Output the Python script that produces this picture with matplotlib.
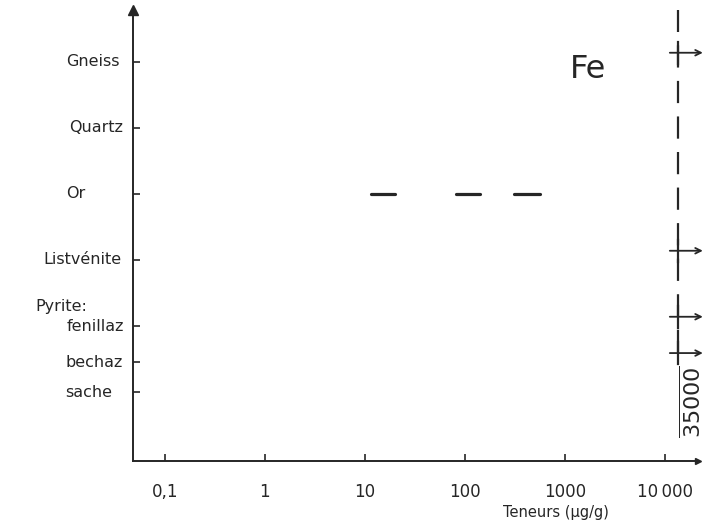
import numpy as np
import matplotlib
matplotlib.use("Agg")
import matplotlib.pyplot as plt

# categories on the vertical axis (top to bottom)
categories = ['Gneiss', 'Quartz', 'Or', 'Listvénite', 'fenillaz', 'bechaz', 'sache']
cat_pos = [6.0, 5.0, 4.0, 3.0, 2.0, 1.45, 1.0]

# Fe ranges measured in "Or" (µg/g)
or_low = [11.5, 81, 310]
or_high = [20, 141, 560]

# samples whose Fe content is above the plotted range
above_cats = ['Gneiss', 'Listvénite', 'fenillaz', 'bechaz']
limit_value = 13500
bechaz_value = '35000'

xticks = [0.1, 1, 10, 100, 1000, 10000]
xticklabels = ['0,1', '1', '10', '100', '1000', '10\u2009000']

ink = '#262626'

fig = plt.figure(figsize=(7.22, 5.32), dpi=100)
ax = fig.add_axes([0.184, 0.1335, 0.7825, 0.848])
ax.set_xscale('log')
ax.set_xlim(10**-1.32, 10**4.33)
ax.set_ylim(-0.045, 6.79)

for s in ['top', 'right']:
    ax.spines[s].set_visible(False)
for s in ['left', 'bottom']:
    ax.spines[s].set_linewidth(1.4)
    ax.spines[s].set_color(ink)

# axis arrows
ax.plot([0], [1], marker='^', ms=7, color=ink, transform=ax.transAxes, clip_on=False)
ax.plot([1], [0], marker='>', ms=5, color=ink, transform=ax.transAxes, clip_on=False)

ax.set_xticks(xticks)
ax.set_xticklabels(xticklabels, fontsize=12, color=ink)
ax.minorticks_off()
ax.tick_params(axis='x', direction='in', length=5, width=1.2, color=ink, pad=16)
ax.set_yticks(cat_pos)
ax.set_yticklabels([''] * len(cat_pos))
ax.tick_params(axis='y', direction='in', length=5, width=1.2, color=ink)

# category labels (right edge in pixels from the figure's left)
label_right = {'Gneiss': 120, 'Quartz': 123, 'Or': 86, 'Listvénite': 122,
               'fenillaz': 124, 'bechaz': 123, 'sache': 112}
for c, y in zip(categories, cat_pos):
    xf = (label_right[c] - 133) / 565
    ax.text(xf, y, c, transform=ax.get_yaxis_transform(), ha='right', va='center',
            fontsize=11.5, color=ink)
ax.text((36 - 133) / 565, 2.3, 'Pyrite:', transform=ax.get_yaxis_transform(),
        ha='left', va='center', fontsize=11.5, color=ink)

# Or ranges
for lo, hi in zip(or_low, or_high):
    ax.plot([lo, hi], [4.0, 4.0], color=ink, lw=2.3, solid_capstyle='round')

# vertical dashed limit line
ax.plot([limit_value, limit_value], [1.6, 6.79], color=ink, lw=1.6,
        dashes=(10, 6), clip_on=False)

# "greater than" markers
for c in above_cats:
    y = cat_pos[categories.index(c)] + 0.14
    ax.plot([limit_value, limit_value], [y - 0.17, y + 0.17], color=ink, lw=1.6)
    ax.annotate('', xy=(10**4.38, y), xytext=(10**4.05, y), annotation_clip=False,
                arrowprops=dict(arrowstyle='->', color=ink, lw=1.3, shrinkA=0, shrinkB=0))

ax.text(0.991, 0.131, r'$\overline{\mathrm{' + bechaz_value + '}}$', transform=ax.transAxes,
        rotation=90, ha='center', va='center', fontsize=16, color=ink, clip_on=False)

ax.text(0.805, 0.867, 'Fe', transform=ax.transAxes, ha='center', va='center',
        fontsize=23, color=ink)
ax.text(0.749, -0.115, 'Teneurs (µg/g)', transform=ax.transAxes, ha='center', va='center',
        fontsize=10.5, color=ink)

fig.savefig('out.png', dpi=100)
